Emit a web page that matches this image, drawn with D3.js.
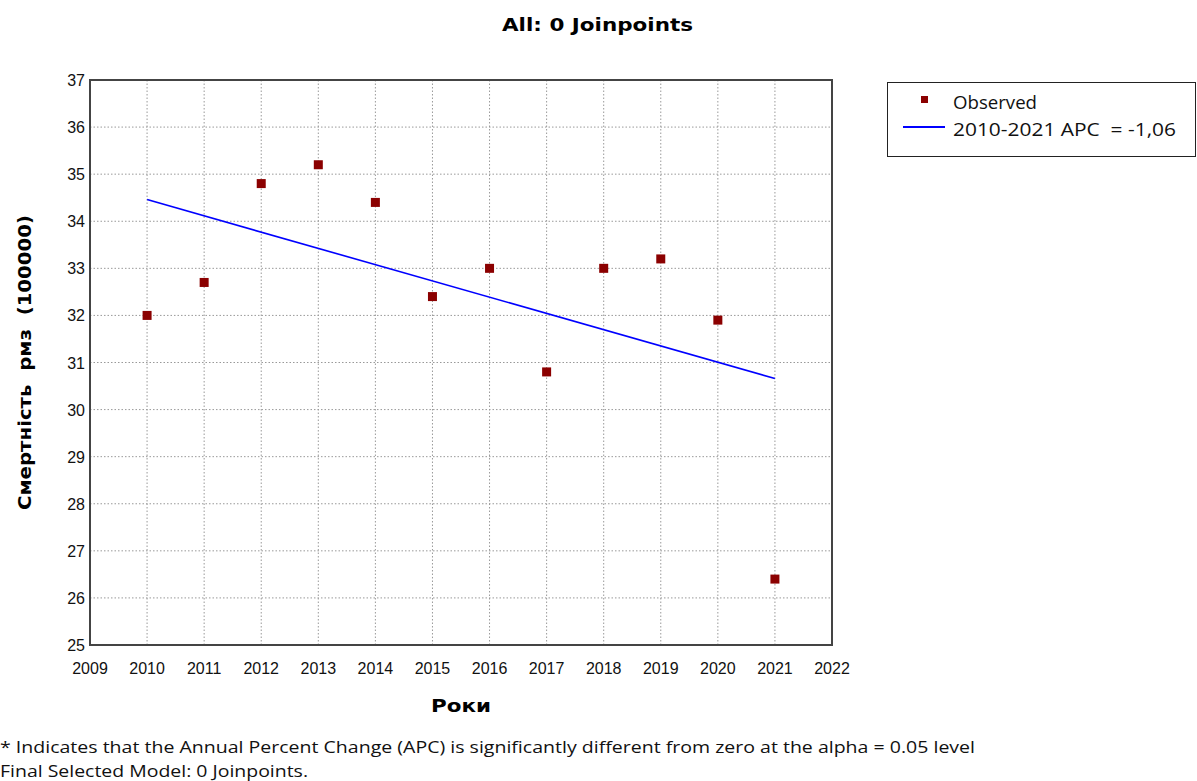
<!DOCTYPE html>
<html>
<head>
<meta charset="utf-8">
<script src="https://cdn.jsdelivr.net/npm/d3@7"></script>
<style>
  body { margin: 0; background: #fff; }
  .tick-label { font-family: "Liberation Sans Narrow", "Liberation Sans", Arial, sans-serif; font-size: 16px; fill: #111; }
  .grid line { stroke: #999; stroke-width: 1; stroke-dasharray: 1.5 2; }
</style>
</head>
<body>
<div id="chart"></div>
<script>
// observed values
const years = [2010, 2011, 2012, 2013, 2014, 2015, 2016, 2017, 2018, 2019, 2020, 2021];
const observed = [32.0, 32.7, 34.8, 35.2, 34.4, 32.4, 33.0, 30.8, 33.0, 33.2, 31.9, 26.4];

// modelled segment (0 joinpoints)
const fitYears = [2010, 2021];
const fitValues = [34.46, 30.66];

const xTicks = d3.range(2009, 2023);
const yTicks = d3.range(25, 38);

const legendLabels = ["Observed", "2010-2021 APC  = -1,06"];
const footnotes = ["* Indicates that the Annual Percent Change (APC) is significantly different from zero at the alpha = 0.05 level",
                   "Final Selected Model: 0 Joinpoints."];

const W = 1197, H = 781;
const plot = {left: 90, right: 832, top: 80, bottom: 645};

const svg = d3.select("#chart").append("svg")
    .attr("width", W)
    .attr("height", H);

const x = d3.scaleLinear().domain([2009, 2022]).range([plot.left, plot.right]);
const y = d3.scaleLinear().domain([25, 37]).range([plot.bottom, plot.top]);

// title
svg.append("text")
    .attr("x", 502).attr("y", 31)
    .attr("textLength", 191)
    .attr("lengthAdjust", "spacingAndGlyphs")
    .style("font-family", "DejaVu Sans, Verdana, sans-serif")
    .style("font-weight", "bold")
    .style("font-size", "18px")
    .text("All: 0 Joinpoints");

// grid
const grid = svg.append("g").attr("class", "grid");
grid.selectAll(".vg")
    .data(xTicks.slice(1, -1)).enter()
    .append("line")
    .attr("x1", d => x(d)).attr("x2", d => x(d))
    .attr("y1", plot.top).attr("y2", plot.bottom);
grid.selectAll(".hg")
    .data(yTicks.slice(1, -1)).enter()
    .append("line")
    .attr("x1", plot.left).attr("x2", plot.right)
    .attr("y1", d => y(d)).attr("y2", d => y(d));

// frame
svg.append("rect")
    .attr("x", plot.left).attr("y", plot.top)
    .attr("width", plot.right - plot.left)
    .attr("height", plot.bottom - plot.top)
    .attr("fill", "none")
    .attr("stroke", "#444")
    .attr("stroke-width", 2);

// axis labels
svg.selectAll(".ylab")
    .data(yTicks).enter()
    .append("text")
    .attr("class", "tick-label")
    .attr("x", plot.left - 5)
    .attr("y", d => y(d) + 6)
    .attr("text-anchor", "end")
    .text(d => d);

svg.selectAll(".xlab")
    .data(xTicks).enter()
    .append("text")
    .attr("class", "tick-label")
    .attr("x", d => x(d))
    .attr("y", 674)
    .attr("text-anchor", "middle")
    .text(d => d);

// axis titles
svg.append("text")
    .attr("transform", "translate(31,510) rotate(-90)")
    .attr("textLength", 295)
    .attr("lengthAdjust", "spacingAndGlyphs")
    .style("font-family", "DejaVu Sans, Verdana, sans-serif")
    .style("font-weight", "bold")
    .style("font-size", "17px")
    .style("white-space", "pre")
    .text("Смертність  рмз  (100000)");

svg.append("text")
    .attr("x", 431).attr("y", 712)
    .attr("textLength", 60)
    .attr("lengthAdjust", "spacingAndGlyphs")
    .style("font-family", "DejaVu Sans, Verdana, sans-serif")
    .style("font-weight", "bold")
    .style("font-size", "18px")
    .text("Роки");

// fitted line
const line = d3.line()
    .x((d, i) => x(fitYears[i]))
    .y(d => y(d));
svg.append("path")
    .datum(fitValues)
    .attr("d", line)
    .attr("fill", "none")
    .attr("stroke", "#0000ff")
    .attr("stroke-width", 1.6);

// observed points
const ms = 9;
svg.selectAll(".pt")
    .data(observed).enter()
    .append("rect")
    .attr("x", (d, i) => x(years[i]) - ms / 2)
    .attr("y", d => y(d) - ms / 2)
    .attr("width", ms).attr("height", ms)
    .attr("fill", "#8b0000");

// legend
const lg = svg.append("g");
lg.append("rect")
    .attr("x", 887.5).attr("y", 82.5)
    .attr("width", 308).attr("height", 74)
    .attr("fill", "#fff")
    .attr("stroke", "#222")
    .attr("stroke-width", 1);
lg.append("rect")
    .attr("x", 921).attr("y", 96)
    .attr("width", 7).attr("height", 7)
    .attr("fill", "#8b0000");
lg.append("line")
    .attr("x1", 903).attr("x2", 945)
    .attr("y1", 127).attr("y2", 127)
    .attr("stroke", "#0000ff").attr("stroke-width", 2);
const legendWidths = [84, 223];
lg.selectAll(".lt")
    .data(legendLabels).enter()
    .append("text")
    .attr("x", 953)
    .attr("y", (d, i) => 109 + i * 27)
    .attr("textLength", (d, i) => legendWidths[i])
    .attr("lengthAdjust", "spacingAndGlyphs")
    .style("font-family", "Open Sans, Noto Sans, sans-serif")
    .style("font-size", "17.5px")
    .style("fill", "#111")
    .style("white-space", "pre")
    .text(d => d);

// footnotes
const footWidths = [975, 308];
svg.selectAll(".fn")
    .data(footnotes).enter()
    .append("text")
    .attr("x", 0)
    .attr("y", (d, i) => 753 + i * 24)
    .attr("textLength", (d, i) => footWidths[i])
    .attr("lengthAdjust", "spacingAndGlyphs")
    .style("font-family", "Open Sans, Noto Sans, sans-serif")
    .style("font-size", "17px")
    .style("fill", "#111")
    .text(d => d);
</script>
</body>
</html>
